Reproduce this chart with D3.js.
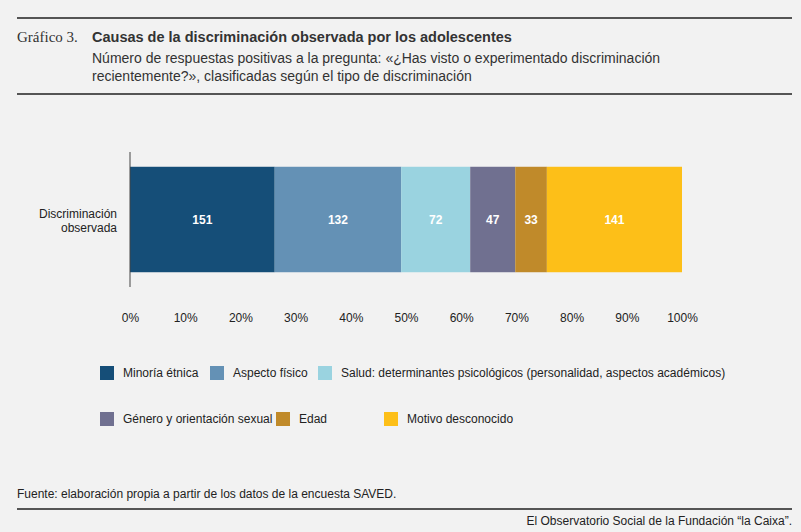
<!DOCTYPE html>
<html><head><meta charset="utf-8">
<script src="https://cdn.jsdelivr.net/npm/d3@7"></script>
<style>
body{margin:0;background:#f2f2f2;font-family:"Liberation Sans",Arial,sans-serif;}
</style></head><body>
<svg id="chart" width="801" height="532"></svg>
<script>
const categories = ['Minoría étnica', 'Aspecto físico', 'Salud: determinantes psicológicos (personalidad, aspectos académicos)', 'Género y orientación sexual', 'Edad', 'Motivo desconocido'];
const values = [151, 132, 72, 47, 33, 141];
const colors = ['#154e78', '#6491b5', '#9ad3e0', '#707090', '#c08a2a', '#fdbf18'];
const ticks = [0, .1, .2, .3, .4, .5, .6, .7, .8, .9, 1];

const svg = d3.select('#chart');
svg.append('rect').attr('width', 801).attr('height', 532).attr('fill', '#f2f2f2');

// header rules
svg.append('line').attr('x1', 17).attr('x2', 792).attr('y1', 18).attr('y2', 18).attr('stroke', '#555').attr('stroke-width', 2);
svg.append('line').attr('x1', 17).attr('x2', 792).attr('y1', 94).attr('y2', 94).attr('stroke', '#555').attr('stroke-width', 2);
svg.append('line').attr('x1', 17).attr('x2', 792).attr('y1', 509).attr('y2', 509).attr('stroke', '#555').attr('stroke-width', 2);

svg.append('text').attr('x', 17).attr('y', 42).attr('font-family', '"Liberation Serif",serif').attr('font-size', 15).attr('fill', '#333').text('Gráfico 3.');
svg.append('text').attr('x', 92).attr('y', 42).attr('font-size', 14.5).attr('font-weight', 'bold').attr('fill', '#333').text('Causas de la discriminación observada por los adolescentes');
svg.append('text').attr('x', 92).attr('y', 63).attr('font-size', 14).attr('fill', '#333').text('Número de respuestas positivas a la pregunta: «¿Has visto o experimentado discriminación');
svg.append('text').attr('x', 92).attr('y', 81).attr('font-size', 14).attr('fill', '#333').text('recientemente?», clasificadas según el tipo de discriminación');

const total = d3.sum(values);
const x = d3.scaleLinear().domain([0, 1]).range([130, 682]);
const y = d3.scaleBand().domain(['Discriminación observada']).range([152, 287]).paddingInner(0).paddingOuter(0.14);

let cum = 0;
const segs = values.map((v, i) => { const s = {v, i, x0: cum / total, x1: (cum + v) / total}; cum += v; return s; });

const g = svg.append('g');
g.selectAll('rect.seg').data(segs).enter().append('rect')
  .attr('x', d => x(d.x0)).attr('width', d => x(d.x1) - x(d.x0))
  .attr('y', y('Discriminación observada')).attr('height', y.bandwidth())
  .attr('fill', d => colors[d.i]);
g.selectAll('text.val').data(segs).enter().append('text')
  .attr('x', d => x((d.x0 + d.x1) / 2)).attr('y', y('Discriminación observada') + y.bandwidth() / 2 + 4)
  .attr('text-anchor', 'middle').attr('font-size', 12).attr('font-weight', 'bold').attr('fill', '#fff')
  .text(d => d.v);

svg.append('line').attr('x1', x(0)).attr('x2', x(0)).attr('y1', 152).attr('y2', 287).attr('stroke', '#444');
svg.append('text').attr('x', 117).attr('y', 218).attr('text-anchor', 'end').attr('font-size', 12).attr('fill', '#222').text('Discriminación');
svg.append('text').attr('x', 117).attr('y', 232).attr('text-anchor', 'end').attr('font-size', 12).attr('fill', '#222').text('observada');

const ax = svg.append('g').attr('transform', 'translate(0,310)')
  .call(d3.axisBottom(x).tickValues(ticks).tickFormat(d3.format('.0%')).tickSize(0));
ax.select('.domain').remove();
ax.selectAll('text').attr('font-size', 12).attr('fill', '#222').attr('font-family', '"Liberation Sans",Arial,sans-serif');

// legend
const legPos = [[100, 373], [210, 373], [318, 373], [100, 419], [276, 419], [384, 419]];
const lg = svg.selectAll('g.leg').data(categories).enter().append('g')
  .attr('transform', (d, i) => `translate(${legPos[i][0]},${legPos[i][1]})`);
lg.append('rect').attr('y', -7).attr('width', 14).attr('height', 14).attr('fill', (d, i) => colors[i]);
lg.append('text').attr('x', 23).attr('y', 4).attr('font-size', 12).attr('fill', '#222').text(d => d);

svg.append('text').attr('x', 17).attr('y', 498).attr('font-size', 12).attr('fill', '#222').text('Fuente: elaboración propia a partir de los datos de la encuesta SAVED.');
svg.append('text').attr('x', 792).attr('y', 525).attr('text-anchor', 'end').attr('font-size', 12).attr('fill', '#222').text('El Observatorio Social de la Fundación “la Caixa”.');
</script></body></html>
